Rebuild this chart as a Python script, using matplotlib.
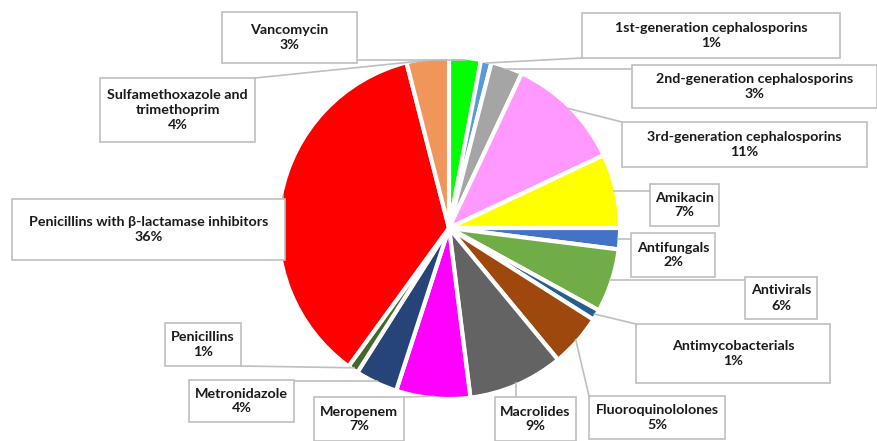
import numpy as np
import matplotlib.pyplot as plt
from matplotlib.patches import Rectangle

labels = [
    "Vancomycin",
    "1st-generation cephalosporins",
    "2nd-generation cephalosporins",
    "3rd-generation cephalosporins",
    "Amikacin",
    "Antifungals",
    "Antivirals",
    "Antimycobacterials",
    "Fluoroquinololones",
    "Macrolides",
    "Meropenem",
    "Metronidazole",
    "Penicillins",
    "Penicillins with \u03b2-lactamase inhibitors",
    "Sulfamethoxazole and\ntrimethoprim",
]
percents = [3, 1, 3, 11, 7, 2, 6, 1, 5, 9, 7, 4, 1, 36, 4]
colors = [
    "#00FF00", "#5B9BD5", "#A5A5A5", "#FF99FF", "#FFFF00",
    "#4472C4", "#70AD47", "#255E91", "#9E480E", "#636363",
    "#FF00FF", "#264478", "#43682B", "#FF0000", "#F0965A",
]

# label boxes in pixel coords (left, top, right, bottom), image y from top
H = 441
boxes = [
    (222, 12, 357, 63),
    (582, 13, 840, 58),
    (632, 65, 877, 108),
    (622, 122, 867, 167),
    (650, 184, 719, 226),
    (631, 233, 715, 277),
    (745, 277, 817, 319),
    (636, 324, 830, 383),
    (589, 396, 725, 439),
    (495, 397, 576, 441),
    (314, 397, 404, 441),
    (189, 380, 294, 422),
    (165, 323, 241, 366),
    (12, 199, 285, 260),
    (100, 78, 255, 142),
]

fig = plt.figure(figsize=(8.77, 4.41), dpi=100)
ax = fig.add_axes([0, 0, 1, 1])

wedges, _ = ax.pie(
    percents,
    colors=colors,
    startangle=90,
    counterclock=False,
    explode=[0.025] * len(percents),
    radius=171,
    center=(449, H - 228),
    wedgeprops=dict(edgecolor="white", linewidth=3),
)
ax.set_xlim(0, 877)
ax.set_ylim(0, H)
ax.set_aspect("equal")
ax.axis("off")

for w, lab, p, (x0, t, x1, b) in zip(wedges, labels, percents, boxes):
    mid = np.deg2rad((w.theta1 + w.theta2) / 2)
    ax_x = w.center[0] + (w.r - 2) * np.cos(mid)
    ax_y = w.center[1] + (w.r - 2) * np.sin(mid)
    y0, y1 = H - b, H - t
    sx = min(max(ax_x, x0), x1)
    sy = min(max(ax_y, y0), y1)
    ax.plot([sx, ax_x], [sy, ax_y], color="#BFBFBF", lw=1.2, zorder=3)
    ax.add_patch(Rectangle((x0, y0), x1 - x0, y1 - y0, fc="white",
                           ec="#BFBFBF", lw=1.2, zorder=4, clip_on=False))
    ax.text((x0 + x1) / 2, (y0 + y1) / 2, f"{lab}\n{p}%", ha="center",
            va="center", fontsize=10.3, fontweight="bold", family="Lato",
            linespacing=1.3, color="#1a1a1a", zorder=5)

fig.savefig("out.png", dpi=100)
